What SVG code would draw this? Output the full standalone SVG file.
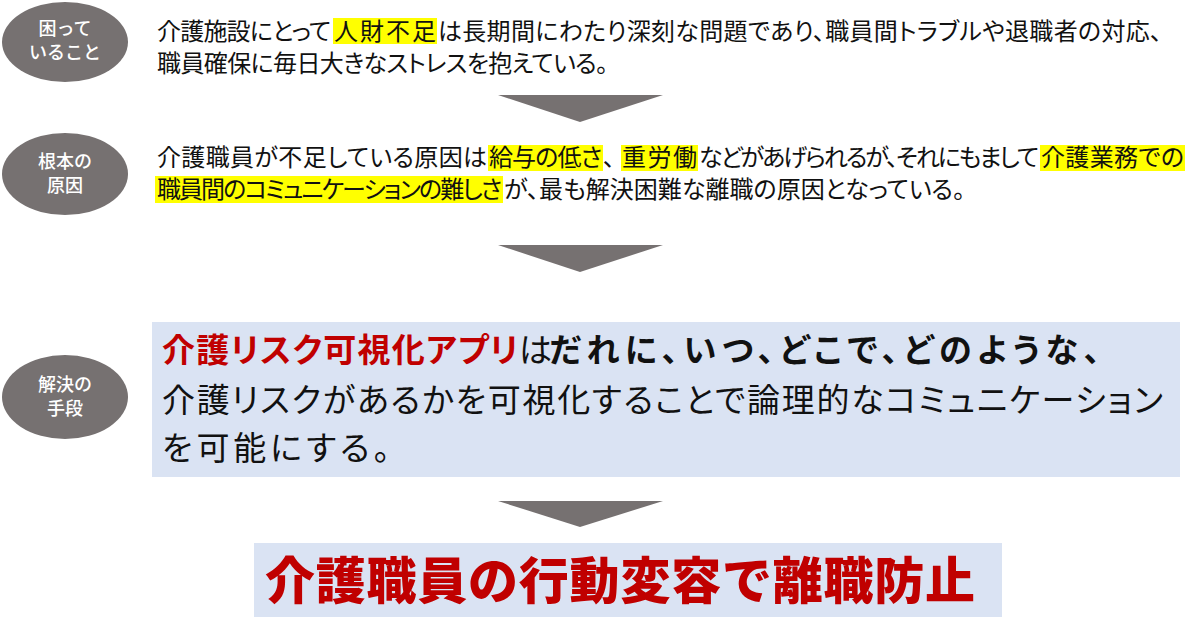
<svg xmlns="http://www.w3.org/2000/svg" width="1200" height="643" viewBox="0 0 1200 643">
<style>
.bg{fill:#ffffff}
.ell{fill:#767171}
.lbl{font-family:"Noto Sans CJK JP","Noto Sans",sans-serif;font-size:18px;fill:#ffffff;text-anchor:middle;font-weight:500}
.t{font-family:"Noto Sans CJK JP","Noto Sans",sans-serif;font-size:24px;fill:#111111;font-feature-settings:"palt"}
.hl{fill:#ffff00}
.box{fill:#dae3f3}
.big{font-family:"Noto Sans CJK JP","Noto Sans",sans-serif;font-size:33px;fill:#111111;font-feature-settings:"palt"}
.red{fill:#c00000;font-weight:700}
.b{font-weight:700}
.goal{font-family:"Noto Sans CJK JP","Noto Sans",sans-serif;font-size:50px;fill:#c00000;font-weight:900}
.arr{fill:#767171}
</style>
<rect class="bg" x="0" y="0" width="1200" height="643"/>

<g id="connectors">
<polygon class="arr" points="498,95 663,95 580,122"/>
<polygon class="arr" points="498,245 663,245 580,272"/>
<polygon class="arr" points="498,501 663,501 580,527"/>
</g>

<g id="label1">
<ellipse class="ell" cx="65" cy="42" rx="63" ry="40"/>
<text class="lbl" x="65" y="35">困って</text>
<text class="lbl" x="65" y="59">いること</text>
</g>

<g id="label2">
<ellipse class="ell" cx="65" cy="174" rx="63" ry="41"/>
<text class="lbl" x="65" y="168">根本の</text>
<text class="lbl" x="65" y="192">原因</text>
</g>

<g id="label3">
<ellipse class="ell" cx="65" cy="397" rx="63" ry="42"/>
<text class="lbl" x="65" y="391">解決の</text>
<text class="lbl" x="65" y="415">手段</text>
</g>

<g id="problem">
<rect class="hl" x="333" y="18" width="104" height="26"/>
<text class="t" y="40"><tspan x="157" textLength="174">介護施設にとって</tspan><tspan x="334" textLength="102">人財不足</tspan><tspan x="438" textLength="724">は長期間にわたり深刻な問題であり、職員間トラブルや退職者の対応、</tspan></text>
<text class="t" y="72"><tspan x="157" textLength="451">職員確保に毎日大きなストレスを抱えている。</tspan></text>
</g>

<g id="cause">
<rect class="hl" x="488" y="145" width="115" height="26"/>
<rect class="hl" x="621" y="145" width="77" height="26"/>
<rect class="hl" x="1040" y="145" width="145" height="26"/>
<rect class="hl" x="155" y="176" width="348" height="27"/>
<text class="t" y="166"><tspan x="157" textLength="330">介護職員が不足している原因は</tspan><tspan x="489" textLength="113">給与の低さ</tspan><tspan x="603" textLength="17">、</tspan><tspan x="622" textLength="75">重労働</tspan><tspan x="699" textLength="340">などがあげられるが、それにもまして</tspan><tspan x="1041" textLength="143">介護業務での</tspan></text>
<text class="t" y="198"><tspan x="157" textLength="345">職員間のコミュニケーションの難しさ</tspan><tspan x="504" textLength="461">が、最も解決困難な離職の原因となっている。</tspan></text>
</g>

<g id="solution">
<rect class="box" x="152" y="322" width="1028" height="155"/>
<text class="big" y="362"><tspan x="162" textLength="356" class="red">介護リスク可視化アプリ</tspan><tspan x="519" textLength="29">は</tspan><tspan x="549" textLength="551" class="b">だれに、いつ、どこで、どのような、</tspan></text>
<text class="big" y="412"><tspan x="162" textLength="1001">介護リスクがあるかを可視化することで論理的なコミュニケーション</tspan></text>
<text class="big" y="460"><tspan x="162" textLength="228">を可能にする。</tspan></text>
</g>

<g id="goal">
<rect class="box" x="254" y="543" width="748" height="74"/>
<text class="goal" x="265" y="599" textLength="710">介護職員の行動変容で離職防止</text>
</g>
</svg>
